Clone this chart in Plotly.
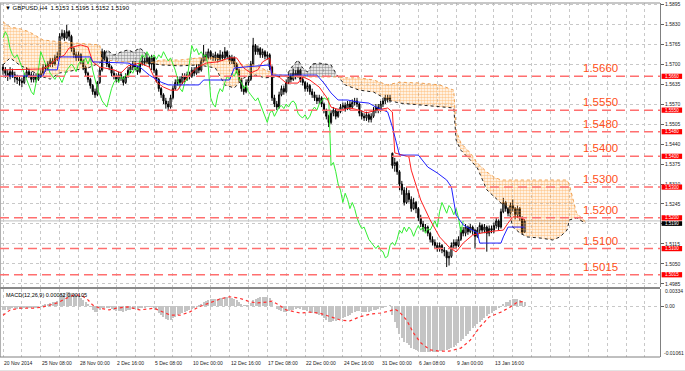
import plotly.graph_objects as go

# ---------------- data ----------------
opens = [1.5690,1.5680,1.5670,1.5660,1.5675,1.5665,1.5655,1.5650,1.5645,1.5640,
 1.5660,1.5675,1.5665,1.5650,1.5660,1.5650,1.5660,1.5670,1.5690,1.5685,
 1.5700,1.5710,1.5700,1.5720,1.5725,1.5790,1.5800,1.5785,1.5805,1.5790,
 1.5750,1.5730,1.5720,1.5730,1.5710,1.5690,1.5670,1.5650,1.5630,1.5610,
 1.5600,1.5640,1.5680,1.5740,1.5720,1.5700,1.5690,1.5670,1.5660,1.5650,
 1.5665,1.5655,1.5640,1.5660,1.5680,1.5690,1.5700,1.5690,1.5675,1.5700,
 1.5710,1.5705,1.5720,1.5700,1.5720,1.5680,1.5650,1.5620,1.5600,1.5580,
 1.5570,1.5560,1.5590,1.5620,1.5640,1.5650,1.5640,1.5660,1.5650,1.5665,
 1.5660,1.5680,1.5670,1.5690,1.5680,1.5710,1.5730,1.5720,1.5740,1.5725,
 1.5720,1.5730,1.5715,1.5730,1.5720,1.5740,1.5725,1.5710,1.5720,1.5700,
 1.5680,1.5650,1.5620,1.5610,1.5640,1.5650,1.5700,1.5760,1.5740,1.5750,
 1.5730,1.5740,1.5725,1.5730,1.5690,1.5590,1.5570,1.5560,1.5600,1.5620,
 1.5610,1.5640,1.5660,1.5650,1.5670,1.5660,1.5680,1.5650,1.5640,1.5620,
 1.5630,1.5610,1.5600,1.5590,1.5580,1.5590,1.5570,1.5550,1.5530,1.5510,
 1.5540,1.5550,1.5530,1.5545,1.5560,1.5565,1.5555,1.5570,1.5560,1.5575,
 1.5580,1.5570,1.5540,1.5530,1.5525,1.5535,1.5520,1.5530,1.5550,1.5560,
 1.5550,1.5570,1.5580,1.5590,1.5585,1.5410,1.5370,1.5380,1.5350,1.5310,
 1.5290,1.5250,1.5280,1.5260,1.5230,1.5250,1.5230,1.5200,1.5180,1.5165,
 1.5170,1.5150,1.5130,1.5120,1.5110,1.5100,1.5110,1.5095,1.5090,1.5070,
 1.5075,1.5110,1.5120,1.5110,1.5130,1.5160,1.5150,1.5170,1.5155,1.5170,
 1.5160,1.5140,1.5160,1.5175,1.5160,1.5170,1.5150,1.5165,1.5160,1.5175,
 1.5190,1.5170,1.5220,1.5250,1.5230,1.5215,1.5240,1.5230,1.5210,1.5230,
 1.5200,1.5153]

highs = [1.5700,1.5690,1.5680,1.5690,1.5685,1.5675,1.5665,1.5660,1.5655,1.5670,
 1.5690,1.5685,1.5675,1.5670,1.5670,1.5670,1.5680,1.5700,1.5700,1.5710,
 1.5720,1.5720,1.5730,1.5740,1.5800,1.5812,1.5810,1.5827,1.5810,1.5795,
 1.5755,1.5740,1.5740,1.5735,1.5715,1.5695,1.5675,1.5655,1.5635,1.5620,
 1.5645,1.5690,1.5750,1.5745,1.5725,1.5710,1.5695,1.5680,1.5670,1.5675,
 1.5675,1.5660,1.5670,1.5690,1.5700,1.5710,1.5710,1.5695,1.5710,1.5725,
 1.5720,1.5735,1.5725,1.5730,1.5725,1.5685,1.5655,1.5625,1.5605,1.5590,
 1.5580,1.5600,1.5630,1.5650,1.5660,1.5660,1.5670,1.5670,1.5675,1.5675,
 1.5690,1.5690,1.5700,1.5700,1.5720,1.5762,1.5740,1.5750,1.5745,1.5735,
 1.5740,1.5735,1.5745,1.5740,1.5755,1.5745,1.5730,1.5730,1.5725,1.5705,
 1.5685,1.5655,1.5630,1.5650,1.5660,1.5710,1.5785,1.5765,1.5760,1.5755,
 1.5750,1.5745,1.5740,1.5735,1.5695,1.5600,1.5580,1.5610,1.5630,1.5630,
 1.5650,1.5670,1.5670,1.5685,1.5680,1.5690,1.5685,1.5660,1.5645,1.5640,
 1.5635,1.5620,1.5610,1.5600,1.5600,1.5595,1.5575,1.5555,1.5535,1.5550,
 1.5560,1.5555,1.5555,1.5570,1.5575,1.5575,1.5580,1.5580,1.5585,1.5590,
 1.5590,1.5575,1.5550,1.5540,1.5545,1.5540,1.5540,1.5560,1.5570,1.5570,
 1.5580,1.5590,1.5600,1.5600,1.5600,1.5412,1.5395,1.5385,1.5355,1.5320,
 1.5300,1.5300,1.5290,1.5270,1.5265,1.5255,1.5235,1.5210,1.5190,1.5180,
 1.5175,1.5155,1.5140,1.5130,1.5120,1.5120,1.5115,1.5105,1.5095,1.5090,
 1.5120,1.5130,1.5130,1.5140,1.5170,1.5170,1.5180,1.5175,1.5180,1.5175,
 1.5165,1.5170,1.5185,1.5180,1.5180,1.5175,1.5175,1.5175,1.5185,1.5200,
 1.5195,1.5230,1.5265,1.5255,1.5235,1.5250,1.5260,1.5235,1.5240,1.5235,
 1.5205,1.5195]

lows = [1.5665,1.5655,1.5645,1.5650,1.5655,1.5640,1.5635,1.5630,1.5625,1.5635,
 1.5655,1.5655,1.5640,1.5640,1.5640,1.5645,1.5655,1.5665,1.5675,1.5680,
 1.5690,1.5690,1.5695,1.5710,1.5720,1.5780,1.5775,1.5780,1.5775,1.5740,
 1.5720,1.5710,1.5710,1.5700,1.5680,1.5660,1.5640,1.5620,1.5600,1.5590,
 1.5595,1.5635,1.5675,1.5710,1.5690,1.5680,1.5660,1.5650,1.5640,1.5640,
 1.5645,1.5630,1.5635,1.5655,1.5670,1.5680,1.5680,1.5665,1.5670,1.5695,
 1.5695,1.5700,1.5690,1.5680,1.5670,1.5640,1.5610,1.5590,1.5570,1.5555,
 1.5547,1.5555,1.5585,1.5615,1.5630,1.5630,1.5635,1.5640,1.5645,1.5650,
 1.5655,1.5660,1.5665,1.5670,1.5675,1.5705,1.5710,1.5715,1.5715,1.5710,
 1.5710,1.5705,1.5710,1.5710,1.5715,1.5715,1.5700,1.5700,1.5690,1.5670,
 1.5640,1.5610,1.5600,1.5605,1.5630,1.5645,1.5695,1.5730,1.5730,1.5720,
 1.5720,1.5715,1.5715,1.5680,1.5580,1.5560,1.5550,1.5555,1.5595,1.5600,
 1.5605,1.5635,1.5640,1.5645,1.5650,1.5655,1.5640,1.5630,1.5610,1.5610,
 1.5600,1.5590,1.5580,1.5570,1.5570,1.5560,1.5540,1.5520,1.5495,1.5505,
 1.5530,1.5520,1.5525,1.5540,1.5550,1.5545,1.5550,1.5550,1.5555,1.5565,
 1.5560,1.5530,1.5520,1.5515,1.5515,1.5510,1.5510,1.5525,1.5540,1.5540,
 1.5545,1.5560,1.5570,1.5575,1.5575,1.5360,1.5350,1.5340,1.5290,1.5275,
 1.5240,1.5245,1.5250,1.5220,1.5225,1.5215,1.5190,1.5170,1.5155,1.5155,
 1.5140,1.5120,1.5110,1.5100,1.5090,1.5090,1.5085,1.5075,1.5040,1.5045,
 1.5070,1.5100,1.5100,1.5105,1.5125,1.5140,1.5140,1.5145,1.5150,1.5145,
 1.5100,1.5135,1.5150,1.5150,1.5150,1.5090,1.5140,1.5150,1.5150,1.5165,
 1.5160,1.5165,1.5215,1.5220,1.5205,1.5210,1.5220,1.5195,1.5200,1.5190,
 1.5145,1.5152]

closes = [1.5680,1.5670,1.5660,1.5675,1.5665,1.5655,1.5650,1.5645,1.5640,1.5660,
 1.5675,1.5665,1.5650,1.5660,1.5650,1.5660,1.5670,1.5690,1.5685,1.5700,
 1.5710,1.5700,1.5720,1.5725,1.5790,1.5800,1.5785,1.5805,1.5790,1.5750,
 1.5730,1.5720,1.5730,1.5710,1.5690,1.5670,1.5650,1.5630,1.5610,1.5600,
 1.5640,1.5680,1.5740,1.5720,1.5700,1.5690,1.5670,1.5660,1.5650,1.5665,
 1.5655,1.5640,1.5660,1.5680,1.5690,1.5700,1.5690,1.5675,1.5700,1.5710,
 1.5705,1.5720,1.5700,1.5720,1.5680,1.5650,1.5620,1.5600,1.5580,1.5570,
 1.5560,1.5590,1.5620,1.5640,1.5650,1.5640,1.5660,1.5650,1.5665,1.5660,
 1.5680,1.5670,1.5690,1.5680,1.5710,1.5730,1.5720,1.5740,1.5725,1.5720,
 1.5730,1.5715,1.5730,1.5720,1.5740,1.5725,1.5710,1.5720,1.5700,1.5680,
 1.5650,1.5620,1.5610,1.5640,1.5650,1.5700,1.5760,1.5740,1.5750,1.5730,
 1.5740,1.5725,1.5730,1.5690,1.5590,1.5570,1.5560,1.5600,1.5620,1.5610,
 1.5640,1.5660,1.5650,1.5670,1.5660,1.5680,1.5650,1.5640,1.5620,1.5630,
 1.5610,1.5600,1.5590,1.5580,1.5590,1.5570,1.5550,1.5530,1.5510,1.5540,
 1.5550,1.5530,1.5545,1.5560,1.5565,1.5555,1.5570,1.5560,1.5575,1.5580,
 1.5570,1.5540,1.5530,1.5525,1.5535,1.5520,1.5530,1.5550,1.5560,1.5550,
 1.5570,1.5580,1.5590,1.5585,1.5590,1.5370,1.5380,1.5350,1.5310,1.5290,
 1.5250,1.5280,1.5260,1.5230,1.5250,1.5230,1.5200,1.5180,1.5165,1.5170,
 1.5150,1.5130,1.5120,1.5110,1.5100,1.5110,1.5095,1.5090,1.5070,1.5075,
 1.5110,1.5120,1.5110,1.5130,1.5160,1.5150,1.5170,1.5155,1.5170,1.5160,
 1.5140,1.5160,1.5175,1.5160,1.5170,1.5150,1.5165,1.5160,1.5175,1.5190,
 1.5170,1.5220,1.5250,1.5230,1.5215,1.5240,1.5230,1.5210,1.5230,1.5200,
 1.5153,1.5190]

tenkan_bars = [0,17,20,22,26,28,33,36,38,41,47,50,53,58,62,65,68,71,74,76,
 79,82,86,91,96,99,102,105,108,110,113,114,117,120,125,127,130,134,137,139,
 143,147,151,154,158,163,165,166,172,173,177,181,185,189,192,195,199,203,208,212,
 214,216,219,221]
tenkan_vals = [1.5681,1.5684,1.5697,1.5713,1.5729,1.5752,1.5762,1.5755,1.5707,1.5690,
 1.5681,1.5671,1.5694,1.5703,1.5690,1.5641,1.5625,1.5615,1.5615,1.5638,
 1.5664,1.5687,1.5703,1.5707,1.5720,1.5720,1.5687,1.5671,1.5681,1.5707,
 1.5720,1.5664,1.5658,1.5638,1.5638,1.5658,1.5648,1.5625,1.5593,1.5560,
 1.5550,1.5557,1.5550,1.5541,1.5550,1.5557,1.5544,1.5411,1.5398,1.5355,
 1.5258,1.5193,1.5138,1.5105,1.5089,1.5118,1.5144,1.5151,1.5157,1.5160,
 1.5183,1.5203,1.5203,1.5193]

kijun_bars = [0,17,18,23,24,37,38,53,58,62,67,70,83,85,96,98,102,113,114,133,
 136,139,142,146,150,155,158,163,165,167,168,176,180,184,188,190,191,192,195,198,
 201,202,211,212,214,221]
kijun_vals = [1.5661,1.5661,1.5681,1.5681,1.5723,1.5723,1.5707,1.5703,1.5690,1.5664,
 1.5641,1.5632,1.5632,1.5648,1.5648,1.5687,1.5690,1.5697,1.5664,1.5664,
 1.5638,1.5606,1.5583,1.5583,1.5577,1.5573,1.5560,1.5544,1.5495,1.5437,
 1.5404,1.5404,1.5365,1.5346,1.5323,1.5300,1.5258,1.5209,1.5177,1.5164,
 1.5151,1.5118,1.5118,1.5138,1.5170,1.5170]

span_bars = [0,3,7,11,17,20,24,27,31,36,41,42,44,47,50,53,55,58,60,62,
 67,75,83,90,94,98,102,107,111,115,120,122,125,127,129,131,134,139,142,145,
 151,157,163,168,177,185,191,192,194,198,201,205,208,211,214,216,219,222,228,233,
 236,239,240,241,243,246,247]
span_a = [1.5697,1.5720,1.5697,1.5681,1.5658,1.5651,1.5671,1.5674,1.5681,1.5687,
 1.5703,1.5707,1.5746,1.5729,1.5739,1.5746,1.5739,1.5752,1.5739,1.5703,
 1.5697,1.5694,1.5697,1.5687,1.5632,1.5622,1.5655,1.5664,1.5655,1.5658,
 1.5661,1.5687,1.5713,1.5687,1.5674,1.5700,1.5703,1.5697,1.5658,1.5632,
 1.5615,1.5609,1.5583,1.5573,1.5567,1.5560,1.5557,1.5453,1.5420,1.5388,
 1.5362,1.5291,1.5268,1.5248,1.5235,1.5170,1.5151,1.5138,1.5134,1.5128,
 1.5138,1.5160,1.5193,1.5196,1.5200,1.5186,1.5183]
span_b = [1.5837,1.5820,1.5815,1.5805,1.5778,1.5775,1.5772,1.5770,1.5768,1.5765,
 1.5762,1.5707,1.5713,1.5710,1.5707,1.5707,1.5705,1.5703,1.5703,1.5703,
 1.5713,1.5713,1.5720,1.5720,1.5713,1.5707,1.5697,1.5697,1.5681,1.5668,
 1.5661,1.5658,1.5658,1.5658,1.5658,1.5658,1.5658,1.5658,1.5658,1.5655,
 1.5655,1.5648,1.5632,1.5641,1.5638,1.5632,1.5615,1.5486,1.5443,1.5411,
 1.5378,1.5349,1.5333,1.5323,1.5323,1.5323,1.5323,1.5323,1.5323,1.5323,
 1.5323,1.5323,1.5307,1.5274,1.5216,1.5193,1.5186]

macd_hist = [-0.0010,-0.0009,-0.0008,-0.0006,-0.0005,-0.0005,
 -0.0006,-0.0006,-0.0007,-0.0005,-0.0003,-0.0003,
 -0.0004,-0.0003,-0.0003,-0.0002,-0.0001,0.0002,
 0.0003,0.0005,0.0007,0.0008,0.0010,0.0012,
 0.0020,0.0026,0.0029,0.0033,0.0033,0.0030,
 0.0027,0.0024,0.0022,0.0018,0.0014,0.0009,
 0.0004,-0.0002,-0.0008,-0.0013,-0.0013,-0.0010,
 -0.0004,-0.0003,-0.0004,-0.0005,-0.0007,-0.0009,
 -0.0011,-0.0011,-0.0012,-0.0013,-0.0012,-0.0010,
 -0.0008,-0.0006,-0.0006,-0.0007,-0.0005,-0.0003,
 -0.0003,-0.0001,-0.0002,0.0000,-0.0004,-0.0009,
 -0.0015,-0.0021,-0.0026,-0.0030,-0.0033,-0.0032,
 -0.0028,-0.0024,-0.0021,-0.0019,-0.0016,-0.0014,
 -0.0011,-0.0009,-0.0006,-0.0004,-0.0001,0.0001,
 0.0005,0.0009,0.0011,0.0014,0.0015,0.0016,
 0.0017,0.0017,0.0018,0.0018,0.0020,0.0020,
 0.0019,0.0019,0.0017,0.0014,0.0009,0.0004,
 0.0001,0.0001,0.0002,0.0006,0.0013,0.0016,
 0.0019,0.0020,0.0021,0.0021,0.0021,0.0018,
 0.0008,0.0000,-0.0007,-0.0010,-0.0012,-0.0014,
 -0.0013,-0.0011,-0.0010,-0.0008,-0.0007,-0.0005,
 -0.0006,-0.0008,-0.0010,-0.0011,-0.0013,-0.0015,
 -0.0017,-0.0019,-0.0020,-0.0023,-0.0027,-0.0031,
 -0.0036,-0.0036,-0.0035,-0.0034,-0.0032,-0.0030,
 -0.0027,-0.0025,-0.0022,-0.0020,-0.0017,-0.0014,
 -0.0012,-0.0012,-0.0013,-0.0014,-0.0013,-0.0013,
 -0.0012,-0.0010,-0.0008,-0.0007,-0.0005,-0.0003,
 -0.0001,0.0000,0.0001,-0.0020,-0.0036,-0.0050,
 -0.0063,-0.0072,-0.0081,-0.0085,-0.0090,-0.0095,
 -0.0097,-0.0100,-0.0102,-0.0104,-0.0105,-0.0106,
 -0.0106,-0.0106,-0.0106,-0.0105,-0.0104,-0.0103,
 -0.0102,-0.0101,-0.0100,-0.0099,-0.0096,-0.0093,
 -0.0089,-0.0085,-0.0080,-0.0075,-0.0069,-0.0063,
 -0.0057,-0.0051,-0.0046,-0.0041,-0.0036,-0.0031,
 -0.0027,-0.0023,-0.0019,-0.0016,-0.0012,-0.0008,
 -0.0005,-0.0001,0.0004,0.0008,0.0010,0.0013,
 0.0015,0.0016,0.0016,0.0014,0.0010,0.00082]

signal_bars = [0,3,7,13,17,23,27,30,33,36,38,41,45,48,53,58,64,68,71,75,
 79,83,88,92,96,100,105,108,112,114,117,120,126,130,134,139,143,147,151,156,
 160,164,166,168,171,174,177,181,185,189,194,198,202,206,211,215,218,221]
signal_vals = [-0.0021,-0.0009,-0.0005,-0.0005,-0.0002,0.0007,0.0018,0.0025,0.0025,0.0014,
 0.0002,-0.0005,-0.0009,-0.0005,-0.0002,-0.0009,-0.0005,-0.0014,-0.0021,-0.0021,
 -0.0014,-0.0002,0.0009,0.0016,0.0021,0.0018,0.0009,0.0007,0.0009,0.0011,
 0.0002,-0.0009,-0.0016,-0.0014,-0.0016,-0.0025,-0.0032,-0.0034,-0.0025,-0.0018,
 -0.0016,-0.0011,-0.0007,-0.0014,-0.0032,-0.0062,-0.0084,-0.0100,-0.0103,-0.0103,
 -0.0096,-0.0078,-0.0048,-0.0025,-0.0014,-0.0002,0.0009,0.00105]

price_ticks = [1.4985,1.5050,1.5115,1.5180,1.5245,1.5310,1.5375,1.5440,
               1.5505,1.5570,1.5635,1.5700,1.5765,1.5830,1.5895]
levels = [1.5660,1.5550,1.5480,1.5400,1.5300,1.5200,1.5100,1.5015]
level_labels = ["1.5660","1.5550","1.5480","1.5400","1.5300","1.5200","1.5100","1.5015"]
date_bars = [0,16,32,48,64,80,96,112,128,144,160,176,192,208]
date_labels = ["20 Nov 2014","25 Nov 08:00","28 Nov 00:00","2 Dec 16:00","5 Dec 08:00",
               "10 Dec 00:00","12 Dec 16:00","17 Dec 08:00","22 Dec 00:00","24 Dec 16:00",
               "31 Dec 00:00","6 Jan 08:00","9 Jan 00:00","13 Jan 16:00"]
title_text = "\u25bc GBPUSD,H4  1.5153 1.5195 1.5152 1.5190"
macd_label = "MACD(12,26,9) 0.00082 0.00105"
macd_max_label, macd_min_label = "0.00334", "-0.01061"
macd_max, macd_min = 0.00334, -0.01061
last_price = 1.5190
CHIKOU_SHIFT = 26

# ---------------- figure ----------------
bars = list(range(len(closes)))
FONT = "Liberation Sans, Arial, sans-serif"
fig = go.Figure()

# Ichimoku cloud (hatched)
cuts = [0] + [k for k in range(1, len(span_bars) - 1) if abs(span_a[k] - span_b[k]) < 1e-9] + [len(span_bars) - 1]
for s, e in zip(cuts[:-1], cuts[1:]):
    xs = span_bars[s:e + 1]
    ya = span_a[s:e + 1]
    yb = span_b[s:e + 1]
    b_on_top = sum(yb) > sum(ya)
    col = "#FF9A30" if b_on_top else "#404040"
    fig.add_trace(go.Scatter(x=xs + xs[::-1], y=yb + ya[::-1], mode="lines", fill="toself",
                             line=dict(width=0), fillcolor="rgba(255,255,255,0)",
                             fillpattern=dict(shape=".", fgcolor=col, bgcolor="rgba(255,255,255,0)",
                                              size=3, solidity=0.55),
                             hoverinfo="skip", showlegend=False))
fig.add_trace(go.Scatter(x=span_bars, y=span_b, mode="lines",
                         line=dict(color="#F0A050", width=1, dash="dot"), showlegend=False))
fig.add_trace(go.Scatter(x=span_bars, y=span_a, mode="lines",
                         line=dict(color="#202020", width=1, dash="dot"), showlegend=False))

# Chikou (close shifted back)
fig.add_trace(go.Scatter(x=bars[:len(bars) - CHIKOU_SHIFT], y=closes[CHIKOU_SHIFT:], mode="lines",
                         line=dict(color="#33EE33", width=1), showlegend=False))
# Tenkan / Kijun
fig.add_trace(go.Scatter(x=tenkan_bars, y=tenkan_vals, mode="lines",
                         line=dict(color="#FF2020", width=1), showlegend=False))
fig.add_trace(go.Scatter(x=kijun_bars, y=kijun_vals, mode="lines",
                         line=dict(color="#2020FF", width=1), showlegend=False))

# Candles
fig.add_trace(go.Candlestick(x=bars, open=opens, high=highs, low=lows, close=closes,
                             increasing=dict(line=dict(color="black", width=1), fillcolor="white"),
                             decreasing=dict(line=dict(color="black", width=1), fillcolor="black"),
                             whiskerwidth=0, showlegend=False, hoverinfo="skip"))

# MACD
fig.add_trace(go.Bar(x=bars, y=macd_hist, marker=dict(color="#C4C4C4", line=dict(width=0)),
                     width=0.42, xaxis="x2", yaxis="y2", showlegend=False))
fig.add_trace(go.Scatter(x=signal_bars, y=signal_vals, mode="lines", xaxis="x2", yaxis="y2",
                         line=dict(color="#FF3030", width=1.2, dash="dot"), showlegend=False))

# ---------------- layout ----------------
PX_PER_BAR = 2.36
x0 = -3 / PX_PER_BAR
x1 = x0 + 660 / PX_PER_BAR
grid_bars = list(range(0, 280, 8))
main_dom = [(357 - 287) / 354, 1]
macd_dom = [0, (357 - 289) / 354]

axis_common = dict(range=[x0, x1], tickvals=grid_bars, showticklabels=False, showgrid=True,
                   gridcolor="#C8C8C8", griddash="dot", gridwidth=1, zeroline=False,
                   showline=False, fixedrange=True)
fig.update_layout(
    width=685, height=371, margin=dict(l=0, r=25, t=3, b=14),
    paper_bgcolor="white", plot_bgcolor="white", showlegend=False,
    font=dict(family=FONT, size=5, color="black"), bargap=0,
    xaxis=dict(domain=[0, 1], anchor="y", rangeslider=dict(visible=False), **axis_common),
    xaxis2=dict(domain=[0, 1], anchor="y2", matches="x", **axis_common),
    yaxis=dict(domain=main_dom, range=[1.49752, 1.58983], side="right", tickvals=price_ticks,
               ticktext=[f"{v:.4f}" for v in price_ticks], showgrid=True, gridcolor="#C8C8C8",
               griddash="dot", ticks="outside", ticklen=3, tickcolor="#606060",
               showline=True, linecolor="#808080", linewidth=1, zeroline=False,
               tickfont=dict(size=5, family=FONT, color="#202020"), fixedrange=True),
    yaxis2=dict(domain=macd_dom, range=[-0.011628, 0.003876], side="right", tickvals=[0],
                ticktext=["0.00"], showgrid=True, gridcolor="#C8C8C8", griddash="dot",
                ticks="outside", ticklen=3, tickcolor="#606060", showline=True,
                linecolor="#808080", linewidth=1, zeroline=False,
                tickfont=dict(size=5, family=FONT, color="#202020"), fixedrange=True),
)

shapes = []
# frame lines
shapes.append(dict(type="line", xref="paper", yref="paper", x0=0, x1=1, y0=1, y1=1,
                   line=dict(color="#909090", width=1)))
shapes.append(dict(type="line", xref="paper", yref="paper", x0=0.0008, x1=0.0008, y0=0, y1=1,
                   line=dict(color="#B0B0B0", width=1)))
shapes.append(dict(type="rect", xref="paper", yref="paper", x0=0, x1=1.0,
                   y0=macd_dom[1], y1=main_dom[0], fillcolor="#8A8A8A", line=dict(width=0)))
shapes.append(dict(type="line", xref="paper", yref="paper", x0=0, x1=1, y0=0, y1=0,
                   line=dict(color="#808080", width=1)))
shapes.append(dict(type="rect", xref="paper", yref="paper", x0=0, x1=1.04, y0=-0.045, y1=-0.038,
                   fillcolor="#C8C8C8", line=dict(width=0)))
# bid line
shapes.append(dict(type="line", xref="paper", yref="y", x0=0, x1=1, y0=last_price, y1=last_price,
                   line=dict(color="#BEBEBE", width=1), layer="below"))
# level lines
for lv in levels:
    shapes.append(dict(type="line", xref="paper", yref="y", x0=0, x1=1, y0=lv, y1=lv,
                       line=dict(color="#FF6F6F", width=1.5, dash="9px,5px")))
# price tags
half_tag = 0.00085
for lv in levels:
    shapes.append(dict(type="rect", xref="paper", yref="y", x0=1.0025, x1=1.0335,
                       y0=lv - half_tag, y1=lv + half_tag, fillcolor="#FF0000", line=dict(width=0)))
shapes.append(dict(type="rect", xref="paper", yref="y", x0=1.0025, x1=1.0335,
                   y0=last_price - 0.0016, y1=last_price - 0.0001, fillcolor="#000000",
                   line=dict(width=0)))
fig.update_layout(shapes=shapes)

ann = []
for lv, lab in zip(levels, level_labels):
    ann.append(dict(x=253, y=lv, xref="x", yref="y", text=lab, showarrow=False, yshift=8,
                    font=dict(size=11.5, color="#FF5020", family=FONT)))
    ann.append(dict(x=1.0025, y=lv, xref="paper", yref="y", text=lab, showarrow=False,
                    xanchor="left", xshift=1, font=dict(size=4.5, color="white", family=FONT)))
ann.append(dict(x=1.0025, y=last_price - 0.00085, xref="paper", yref="y", text=f"{last_price:.4f}",
                showarrow=False, xanchor="left", xshift=1,
                font=dict(size=4.5, color="white", family=FONT)))
for b, lab in zip(date_bars, date_labels):
    ann.append(dict(x=b, y=0, xref="x", yref="paper", text=lab, showarrow=False,
                    xanchor="left", yanchor="top", xshift=-1, yshift=-1,
                    font=dict(size=5, color="#202020", family=FONT)))
ann.append(dict(x=0.004, y=0.999, xref="paper", yref="paper", text=title_text, showarrow=False,
                xanchor="left", yanchor="top", font=dict(size=6, color="black", family=FONT)))
ann.append(dict(x=0.006, y=macd_dom[1], xref="paper", yref="paper", text=macd_label,
                showarrow=False, xanchor="left", yanchor="top", yshift=-1,
                font=dict(size=5.5, color="black", family=FONT)))
ann.append(dict(x=1.0, y=macd_max, xref="paper", yref="y2", text=macd_max_label, showarrow=False,
                xanchor="left", xshift=3, font=dict(size=5, color="#202020", family=FONT)))
ann.append(dict(x=1.0, y=macd_min, xref="paper", yref="y2", text=macd_min_label, showarrow=False,
                xanchor="left", xshift=2, font=dict(size=5, color="#202020", family=FONT)))
fig.update_layout(annotations=ann)

fig.write_html("out.html", config={"displayModeBar": False},
               post_script="document.body.style.margin='0px';document.body.style.overflow='hidden';")
